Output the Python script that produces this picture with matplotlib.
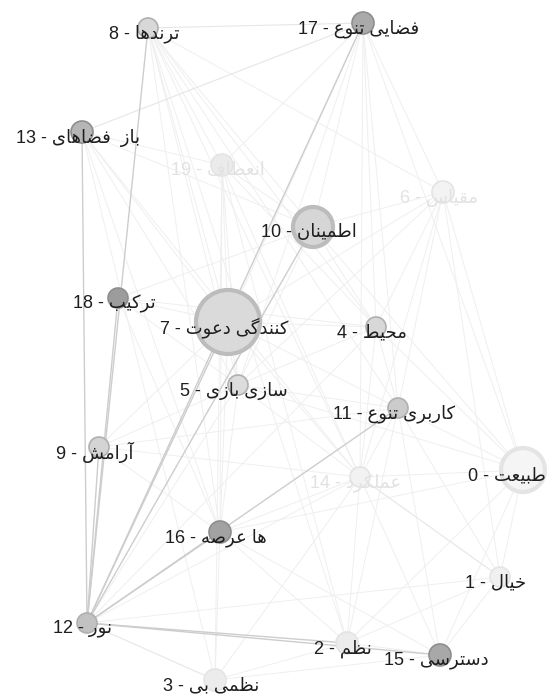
import matplotlib.pyplot as plt
import numpy as np

# node data (pixel layout of the original graph)
node_names = ["طبیعت", "خیال", "نظم", "بی نظمی", "محیط", "بازی سازی", "مقیاس",
              "دعوت کنندگی", "ترندها", "آرامش", "اطمینان", "تنوع کاربری", "نور",
              "فضاهای  باز", "عملکرد", "دسترسی", "عرصه ها", "تنوع فضایی", "ترکیب", "انعطاف"]
node_x = [523, 500, 347, 215, 376, 238, 443, 228, 148, 99, 313, 398, 87, 82, 360, 440, 220, 363, 118, 222]
node_y = [470, 577, 643, 680, 327, 385, 192, 322, 28, 447, 227, 408, 623, 132, 477, 655, 532, 23, 298, 165]
node_r = [22, 10, 11, 11, 10, 10, 11, 32, 10, 10, 20, 10, 10, 11, 10, 11, 11, 11, 10, 11]
node_shade = ["#f5f5f5", "#f0f0f0", "#ececec", "#ececec", "#d8d8d8", "#dcdcdc", "#f3f3f3",
              "#dadada", "#d8d8d8", "#d4d4d4", "#d6d6d6", "#cbcbcb", "#c2c2c2",
              "#b6b6b6", "#f2f2f2", "#a8a8a8", "#a2a2a2", "#aaaaaa", "#9c9c9c", "#ebebeb"]
faded = [6, 14, 19]

strong_edges = [(12, 13), (12, 8), (12, 18), (12, 9), (12, 17), (12, 7), (12, 10),
                (12, 16), (12, 11), (12, 15), (12, 2)]
mid_edges = [(14, 1), (12, 3), (8, 17), (13, 17)]
faint_edges = [(8, 19), (8, 7), (8, 10), (8, 5), (8, 4), (8, 16), (8, 14), (8, 11), (8, 6),
               (8, 2), (13, 19), (13, 7), (13, 5), (13, 16), (13, 14), (13, 3), (13, 10),
               (17, 19), (17, 10), (17, 4), (17, 11), (17, 14), (17, 6), (17, 0), (17, 7),
               (17, 5), (19, 7), (19, 5), (19, 16), (19, 14), (19, 3), (19, 4), (19, 10),
               (19, 2), (6, 10), (6, 4), (6, 11), (6, 0), (6, 1), (6, 14), (6, 5), (6, 7),
               (0, 11), (0, 14), (0, 4), (0, 16), (0, 2), (0, 15), (0, 1), (0, 5), (0, 10),
               (14, 2), (14, 15), (14, 3), (14, 16), (14, 5), (14, 7), (14, 4), (14, 11),
               (18, 7), (18, 5), (18, 16), (18, 10), (18, 4), (9, 5), (9, 16), (9, 7),
               (9, 14), (9, 11), (7, 4), (7, 5), (7, 11), (7, 16), (10, 4), (10, 5),
               (4, 11), (4, 5), (5, 16), (5, 11), (11, 1), (11, 15), (11, 2), (16, 3),
               (16, 2), (16, 15), (2, 15), (2, 1), (3, 15), (3, 2), (1, 15), (12, 14),
               (12, 5), (12, 4), (12, 1)]

# Persian letters -> presentation forms (isolated, final, initial, medial)
FORMS = {
    'ا': ('\uFE8D', '\uFE8E'), 'آ': ('\uFE81', '\uFE82'), 'د': ('\uFEA9', '\uFEAA'),
    'ر': ('\uFEAD', '\uFEAE'), 'ز': ('\uFEAF', '\uFEB0'), 'و': ('\uFEED', '\uFEEE'),
    'ب': ('\uFE8F', '\uFE90', '\uFE91', '\uFE92'), 'ت': ('\uFE95', '\uFE96', '\uFE97', '\uFE98'),
    'ح': ('\uFEA1', '\uFEA2', '\uFEA3', '\uFEA4'), 'خ': ('\uFEA5', '\uFEA6', '\uFEA7', '\uFEA8'),
    'س': ('\uFEB1', '\uFEB2', '\uFEB3', '\uFEB4'), 'ش': ('\uFEB5', '\uFEB6', '\uFEB7', '\uFEB8'),
    'ص': ('\uFEB9', '\uFEBA', '\uFEBB', '\uFEBC'), 'ض': ('\uFEBD', '\uFEBE', '\uFEBF', '\uFEC0'),
    'ط': ('\uFEC1', '\uFEC2', '\uFEC3', '\uFEC4'), 'ظ': ('\uFEC5', '\uFEC6', '\uFEC7', '\uFEC8'),
    'ع': ('\uFEC9', '\uFECA', '\uFECB', '\uFECC'), 'ف': ('\uFED1', '\uFED2', '\uFED3', '\uFED4'),
    'ق': ('\uFED5', '\uFED6', '\uFED7', '\uFED8'), 'ک': ('\uFB8E', '\uFB8F', '\uFB90', '\uFB91'),
    'گ': ('\uFB92', '\uFB93', '\uFB94', '\uFB95'), 'ل': ('\uFEDD', '\uFEDE', '\uFEDF', '\uFEE0'),
    'م': ('\uFEE1', '\uFEE2', '\uFEE3', '\uFEE4'), 'ن': ('\uFEE5', '\uFEE6', '\uFEE7', '\uFEE8'),
    'ه': ('\uFEE9', '\uFEEA', '\uFEEB', '\uFEEC'), 'ی': ('\uFBFC', '\uFBFD', '\uFBFE', '\uFBFF'),
}


def shape_word(w):
    out = []
    for i, c in enumerate(w):
        if c not in FORMS:
            out.append(c)
            continue
        f = FORMS[c]
        prev = w[i - 1] if i > 0 else None
        nxt = w[i + 1] if i + 1 < len(w) else None
        jp = prev in FORMS and len(FORMS[prev]) == 4
        jn = len(f) == 4 and nxt in FORMS
        if jp and jn:
            out.append(f[3])
        elif jp:
            out.append(f[1])
        elif jn:
            out.append(f[2])
        else:
            out.append(f[0])
    return ''.join(reversed(out))


def make_label(i, name):
    return f"{i} - " + ' '.join(shape_word(w) for w in name.split(' '))


W, H = 547, 696
fig = plt.figure(figsize=(W / 100, H / 100), dpi=100)
ax = fig.add_axes([0, 0, 1, 1])
ax.set_xlim(0, W)
ax.set_ylim(H, 0)
ax.axis('off')

x = np.array(node_x)
y = np.array(node_y)

for a, b in faint_edges:
    ax.plot([x[a], x[b]], [y[a], y[b]], color="#efefef", lw=0.7, zorder=1)
for a, b in mid_edges:
    ax.plot([x[a], x[b]], [y[a], y[b]], color="#e6e6e6", lw=0.8, zorder=2)
for a, b in strong_edges:
    ax.plot([x[a], x[b]], [y[a], y[b]], color="#cdcdcd", lw=1.0, zorder=3)

r = np.array(node_r)
sizes = (2 * r * 0.72) ** 2
edge_cols = []
for i in range(20):
    if node_shade[i] > "#e8":
        edge_cols.append("#e4e4e4")
    elif node_r[i] > 15:
        edge_cols.append("#bcbcbc")
    elif node_shade[i] < "#b8":
        edge_cols.append("#8e8e8e")
    else:
        edge_cols.append("#b0b0b0")
lws = [3 if node_r[i] > 15 else 1.2 for i in range(20)]
ax.scatter(x, y, s=sizes, c=node_shade, edgecolors=edge_cols, linewidths=lws, zorder=4)

labels = []
for i, name in enumerate(node_names):
    col = "#e2e2e2" if i in faded else "#1e1e1e"
    t = ax.annotate(make_label(i, name), (x[i], y[i]), xytext=(-3, -4), textcoords="offset points",
                    ha="center", va="center", fontsize=13, color=col,
                    family=["Liberation Sans", "DejaVu Sans"], zorder=5)
    labels.append(t)

# keep labels inside the canvas
fig.canvas.draw()
for t in labels:
    bb = t.get_window_extent()
    dx, dy = t.xyann
    if bb.x1 > W - 1:
        t.xyann = (dx - (bb.x1 - W + 1) * 0.72, dy)
    elif bb.x0 < 1:
        t.xyann = (dx + (1 - bb.x0) * 0.72, dy)

fig.savefig("out.png", dpi=100)
